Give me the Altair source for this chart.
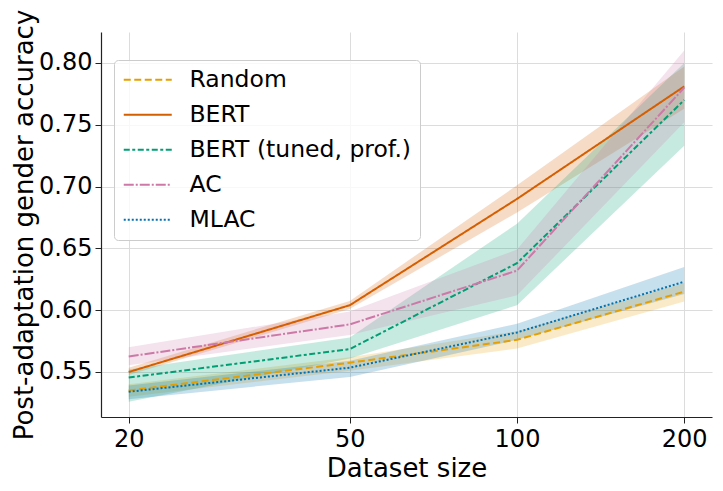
import altair as alt
import pandas as pd

sizes = [20, 50, 100, 200]
series = ["Random", "BERT", "BERT (tuned, prof.)", "AC", "MLAC"]
colors = ["#e69f00", "#d55e00", "#009e73", "#cc79a7", "#0072b2"]
dashes = [[7, 3.5], [1, 0], [6, 2.5, 3, 2.5], [10, 2, 2, 2], [2, 2]]

mean_vals = {
    "Random": [0.535, 0.5575, 0.576, 0.615],
    "BERT": [0.550, 0.604, 0.690, 0.781],
    "BERT (tuned, prof.)": [0.5455, 0.5685, 0.638, 0.770],
    "AC": [0.5625, 0.5885, 0.632, 0.780],
    "MLAC": [0.534, 0.5535, 0.582, 0.623],
}
low_vals = {
    "Random": [0.530, 0.551, 0.569, 0.607],
    "BERT": [0.5475, 0.601, 0.679, 0.763],
    "BERT (tuned, prof.)": [0.526, 0.561, 0.604, 0.733],
    "AC": [0.5555, 0.580, 0.612, 0.752],
    "MLAC": [0.528, 0.546, 0.576, 0.613],
}
high_vals = {
    "Random": [0.540, 0.562, 0.583, 0.622],
    "BERT": [0.5535, 0.6075, 0.701, 0.797],
    "BERT (tuned, prof.)": [0.552, 0.578, 0.670, 0.800],
    "AC": [0.570, 0.599, 0.649, 0.810],
    "MLAC": [0.539, 0.559, 0.589, 0.635],
}

rows = []
for i, s in enumerate(series):
    for j, n in enumerate(sizes):
        rows.append({"size": n, "series": s, "order": i,
                     "mean": mean_vals[s][j], "lo": low_vals[s][j], "hi": high_vals[s][j]})
df = pd.DataFrame(rows)

FONT = "DejaVu Sans"
xscale = alt.Scale(type="log", domain=[17.83, 224.4], nice=False)
yscale = alt.Scale(domain=[0.5136, 0.825], zero=False, nice=False)
cscale = alt.Scale(domain=series, range=colors)
dscale = alt.Scale(domain=series, range=dashes)

xaxis = alt.Axis(values=sizes, format="d", title="Dataset size", labelFontSize=24,
                 titleFontSize=26, labelFont=FONT, titleFont=FONT, titleFontWeight="normal",
                 labelColor="black", titleColor="black", domainColor="#222222",
                 tickColor="#222222", tickSize=6, labelPadding=4, titlePadding=4,
                 gridColor="#dcdcdc", grid=True, labelFlush=False)
yaxis = alt.Axis(values=[0.55, 0.60, 0.65, 0.70, 0.75, 0.80], format=".2f",
                 title="Post-adaptation gender accuracy", labelFontSize=24, titleFontSize=26,
                 labelFont=FONT, titleFont=FONT, titleFontWeight="normal",
                 labelColor="black", titleColor="black", domainColor="#222222",
                 tickColor="#222222", tickSize=6, labelPadding=3, titlePadding=1,
                 gridColor="#dcdcdc", grid=True)

legend = alt.Legend(title=None, orient="none", legendX=13, legendY=28,
                    labelFontSize=23.5, labelFont=FONT, labelColor="black",
                    symbolType="M-1,0H3.8", symbolSize=400, symbolStrokeWidth=2,
                    symbolOpacity=1, symbolFillColor="transparent",
                    labelOffset=44, rowPadding=10, padding=8,
                    strokeColor="#cccccc", fillColor="rgba(255,255,255,0.8)",
                    cornerRadius=4, labelLimit=400)

base = alt.Chart(df)

bands = base.mark_area(opacity=0.22, line=False).encode(
    x=alt.X("size:Q", scale=xscale, axis=xaxis),
    y=alt.Y("lo:Q", scale=yscale, axis=yaxis),
    y2="hi:Q",
    color=alt.Color("series:N", scale=cscale, sort=series, legend=legend),
    detail="series:N",
)

lines = base.mark_line(strokeWidth=2).encode(
    x=alt.X("size:Q", scale=xscale),
    y=alt.Y("mean:Q", scale=yscale),
    color=alt.Color("series:N", scale=cscale, sort=series, legend=legend),
    strokeDash=alt.StrokeDash("series:N", scale=dscale, sort=series, legend=legend),
    order="order:Q",
)

chart = alt.layer(bands, lines).properties(
    width=611, height=385,
    autosize=alt.AutoSizeParams(type="none"),
    padding={"left": 93, "top": 24, "right": 3, "bottom": 66},
).configure_view(stroke=None).configure_axis(domainWidth=1.2)

chart.save("out.html", embed_options={"renderer": "svg", "actions": False})
